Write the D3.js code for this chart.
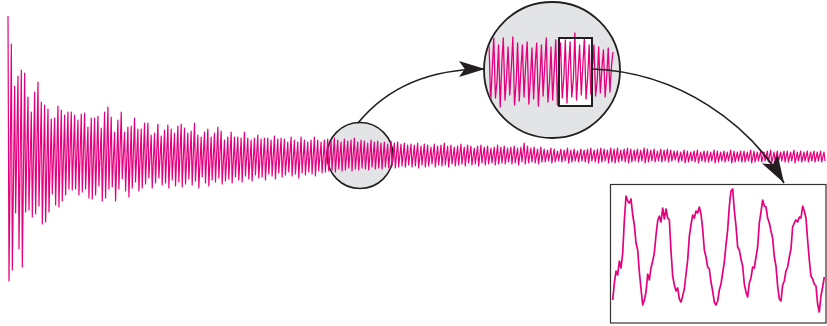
<!DOCTYPE html>
<html>
<head>
<meta charset="utf-8">
<title>Damped oscillation zoom</title>
<script src="https://d3js.org/d3.v7.min.js"></script>
<style>
  body { margin: 0; background: #fff; }
  svg { display: block; }
</style>
</head>
<body>
<div id="chart"></div>
<script>
// main trace: per-cycle peak height and trough depth (arbitrary units about the baseline)
const mainHi = [
  139,111,69,79,85,82,58,43,63,73,53,50,46,36,37,49,45,40,43,43,40,35,41,42,28,37,37,39,27,43,48,38,23,35,43,23,28,29,37,26,26,32,32,20,22,31,
  19,25,30,26,22,29,31,27,22,24,32,20,18,23,26,18,22,28,24,15,18,23,18,18,17,23,17,15,17,20,16,17,17,15,19,16,17,16,13,18,15,13,18,15,13,15,18,15,13,15,
  16,14,17,15,13,16,14,15,17,13,15,14,12,15,13,14,12,13,11,14,12,13,11,12,10,
  11,10,12,9,11,10,8,11,9,10,12,9,10,8,9,11,8,10,9,7,9,10,8,9,7,8,10,8,9,7,8,9,7,8,12,9,7,8,6,8,
  6,5,7,6,4,6,5,7,5,6,4,6,5,6,7,5,6,7,6,5,7,6,7,5,6,7,6,5,6,5,7,6,5,6,4,6,5,6,5,4,
  4,3,5,4,3,4,5,3,4,4,3,5,4,3,4,3,5,4,3,4,4,3,5,4,3,4,3,4,5,3,4,3,4,4,3,5,3,4,3,4,3,4,3,4,3
];
const mainLo = [
  126,115,58,94,112,57,55,62,59,51,69,67,57,39,50,52,46,40,34,35,34,40,37,34,43,44,40,31,46,43,34,32,46,34,24,36,42,33,27,36,33,29,23,33,28,23,
  30,28,33,25,31,27,32,29,24,30,26,33,22,28,31,25,27,23,29,26,24,28,22,25,27,21,24,26,20,23,22,25,19,21,24,18,22,20,17,21,19,23,18,20,17,19,21,16,18,17,
  16,15,17,14,16,15,13,16,14,15,13,14,15,12,14,13,14,12,13,11,13,12,11,12,10,
  12,11,13,10,12,11,9,12,10,11,10,12,9,11,10,9,11,8,10,9,11,8,10,9,8,10,9,8,9,7,9,8,10,7,9,8,7,8,9,7,
  7,6,8,7,6,7,6,8,7,6,7,6,7,8,6,7,8,7,6,8,7,8,7,6,7,8,7,6,7,6,8,7,6,7,6,7,6,7,6,5,
  7,6,8,7,6,7,8,6,7,7,6,8,7,6,7,6,8,7,6,7,7,6,8,7,6,7,6,7,8,6,7,6,7,7,6,8,6,7,6,7,6,7,6,7,6
];

// magnified trace inside the large circle
const zoomHi  = [30,34,27,34,25,35,29,27,30,24,29,27,34,25,32,29,32,30,39,27,34,27,27,25,22,24,20];
const zoomLo  = [31,26,35,28,23,33,29,25,32,27,34,24,30,28,33,26,31,25,28,23,27,22,24,21,25,20,23];
const zoomMid = [5,-8,10,-4,6,-10,3,8,-6,9,-3,7,-9,4,10,-5,6,-7,2,9,-4,5,-8,6,-3,7,-5];

// detail trace in the bottom-right box (evenly sampled)
const boxVals = [
  17,34,46,42,56,49,64,97,121,116,114,118,102,92,74,67,45,28,12,17,
  25,43,37,49,56,64,82,96,101,95,109,98,108,99,97,66,41,32,26,29,
  18,15,21,28,43,57,81,92,102,99,106,104,110,103,88,67,60,50,48,35,
  26,15,12,16,27,33,44,55,72,87,111,126,128,107,91,70,67,58,51,33,
  25,20,34,39,50,49,60,70,94,105,117,111,110,99,94,86,79,60,51,31,
  18,16,32,36,46,50,60,68,90,94,97,95,100,99,111,106,99,77,57,41,
  38,33,31,13,5,21,30,40
];

const W = 827, H = 326;
const ink = "#231f20", magenta = "#e5007d", grey = "#e3e4e6";

const svg = d3.select("#chart").append("svg")
  .attr("width", W).attr("height", H);

svg.append("rect").attr("width", W).attr("height", H).attr("fill", "#fff");

// ---- small circle behind the main trace
svg.append("circle")
  .attr("cx", 360).attr("cy", 155.5).attr("r", 33)
  .attr("fill", grey).attr("stroke", ink).attr("stroke-width", 1.6);

// ---- main trace
const x = d3.scaleLinear().domain([0, mainHi.length - 1]).range([8, 824]);
const y = d3.scaleLinear().domain([-150, 150]).range([305, 5]);

const mainPts = [];
mainHi.forEach((h, i) => {
  mainPts.push([x(i), y(h)]);
  mainPts.push([x(i + 0.3), y(-mainLo[i])]);
});

const line = d3.line();

svg.append("path")
  .attr("d", line(mainPts))
  .attr("fill", "none")
  .attr("stroke", magenta)
  .attr("stroke-width", 1.2)
  .attr("stroke-linejoin", "round");

// ---- big circle with magnified trace
const bc = { cx: 552, cy: 70, r: 68 };
svg.append("clipPath").attr("id", "bigclip")
  .append("circle").attr("cx", bc.cx).attr("cy", bc.cy).attr("r", bc.r - 1);

svg.append("circle")
  .attr("cx", bc.cx).attr("cy", bc.cy).attr("r", bc.r)
  .attr("fill", grey).attr("stroke", ink).attr("stroke-width", 1.8);

const frame = { x: 559, y: 38, w: 33, h: 68 };
svg.append("rect")
  .attr("x", frame.x).attr("y", frame.y).attr("width", frame.w).attr("height", frame.h)
  .attr("fill", "#fff");

const zx = d3.scaleLinear().domain([0, zoomHi.length - 1]).range([489, 613]);
const zy = d3.scaleLinear().domain([-40, 40]).range([112, 32]);

const zoomPts = [];
zoomHi.forEach((h, i) => {
  zoomPts.push([zx(i), zy(h)]);
  zoomPts.push([zx(i + 0.35), zy(-zoomLo[i])]);
  zoomPts.push([zx(i + 0.7), zy(zoomMid[i])]);
});

svg.append("path")
  .attr("d", line(zoomPts.filter(p => p[0] <= 614)))
  .attr("clip-path", "url(#bigclip)")
  .attr("fill", "none")
  .attr("stroke", magenta)
  .attr("stroke-width", 1.3)
  .attr("stroke-linejoin", "round");

svg.append("rect")
  .attr("x", frame.x).attr("y", frame.y).attr("width", frame.w).attr("height", frame.h)
  .attr("fill", "none").attr("stroke", ink).attr("stroke-width", 2);

// ---- detail box
const box = { x: 610.5, y: 184.5, w: 215.5, h: 138.5 };
svg.append("rect")
  .attr("x", box.x).attr("y", box.y).attr("width", box.w).attr("height", box.h)
  .attr("fill", "#fff").attr("stroke", "#333").attr("stroke-width", 1.2);

const bx = d3.scaleLinear().domain([0, boxVals.length - 1]).range([612.7, 824.3]);
const by = d3.scaleLinear().domain([0, 130]).range([317, 187]);

svg.append("path")
  .attr("d", line(boxVals.map((v, i) => [bx(i), by(v)])))
  .attr("fill", "none")
  .attr("stroke", magenta)
  .attr("stroke-width", 1.7)
  .attr("stroke-linejoin", "round");

// ---- arrows
function arrow(p0, p1, p2, p3, len, half) {
  const path = d3.path();
  path.moveTo(p0[0], p0[1]);
  path.bezierCurveTo(p1[0], p1[1], p2[0], p2[1], p3[0], p3[1]);
  svg.append("path")
    .attr("d", path.toString())
    .attr("fill", "none").attr("stroke", ink).attr("stroke-width", 1.7);

  const a = Math.atan2(p3[1] - p2[1], p3[0] - p2[0]);
  const bxp = p3[0] - len * Math.cos(a), byp = p3[1] - len * Math.sin(a);
  const nx = -Math.sin(a) * half, ny = Math.cos(a) * half;
  svg.append("path")
    .attr("d", `M${p3[0]},${p3[1]}L${bxp + nx},${byp + ny}L${bxp + len * 0.22 * Math.cos(a)},${byp + len * 0.22 * Math.sin(a)}L${bxp - nx},${byp - ny}Z`)
    .attr("fill", ink);
}

arrow([358, 123], [385, 90], [425, 69], [485, 69], 26, 8);
arrow([592, 69], [680, 72], [750, 125], [784, 183], 28, 9);
</script>
</body>
</html>
